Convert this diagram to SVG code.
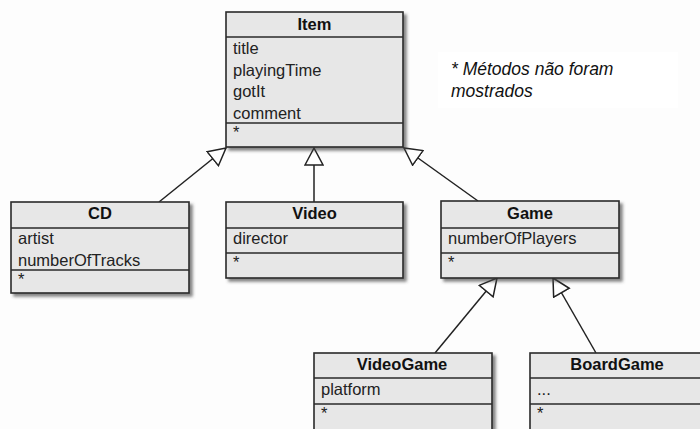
<svg xmlns="http://www.w3.org/2000/svg" width="700" height="429" viewBox="0 0 700 429">
  <defs>
    <filter id="shadow" x="-5%" y="-5%" width="115%" height="120%">
      <feDropShadow dx="3" dy="3" stdDeviation="1.4" flood-color="#444" flood-opacity="0.65"/>
    </filter>
    <!-- hollow generalization arrowhead -->
    <marker id="gen" markerUnits="userSpaceOnUse" viewBox="0 0 20 20" markerWidth="20" markerHeight="20" refX="18" refY="10" orient="auto">
      <path d="M1,1 L18,10 L1,19 Z" fill="#ffffff" stroke="#222" stroke-width="1.5" stroke-linejoin="miter"/>
    </marker>
  </defs>
  <style>
    .box { fill: #e7e7e7; stroke: #2a2a2a; stroke-width: 1.6; }
    .div { stroke: #2a2a2a; stroke-width: 1.6; }
    .name { font-family: "Liberation Sans", Arial, sans-serif; font-weight: bold; font-size: 16.5px; fill: #111; text-anchor: middle; }
    .attr { font-family: "Liberation Sans", Arial, sans-serif; font-size: 16.5px; fill: #222; }
    .note { font-family: "Liberation Sans", Arial, sans-serif; font-style: italic; font-size: 17.5px; fill: #111; }
    .conn { stroke: #222; stroke-width: 1.5; fill: none; marker-end: url(#gen); }
  </style>

  <rect x="0" y="0" width="700" height="429" fill="#fdfdfd"/>

  <!-- note -->
  <g id="note">
    <rect x="438" y="52" width="240" height="56" fill="#ffffff"/>
    <text class="note" x="451" y="75">* Métodos não foram</text>
    <text class="note" x="451" y="97">mostrados</text>
  </g>

  <!-- generalization connectors -->
  <g id="connectors">
    <line class="conn" x1="159" y1="202" x2="226" y2="148"/>
    <line class="conn" x1="314" y1="202" x2="314" y2="148"/>
    <line class="conn" x1="478" y1="201" x2="404" y2="148"/>
    <line class="conn" x1="435" y1="353" x2="497" y2="278"/>
    <line class="conn" x1="596" y1="353" x2="553" y2="278"/>
  </g>

  <g id="Item">
    <rect class="box" x="226" y="12" width="177" height="135" filter="url(#shadow)"/>
    <line class="div" x1="226" y1="37" x2="403" y2="37"/>
    <line class="div" x1="226" y1="123" x2="403" y2="123"/>
    <text class="name" x="314.5" y="29.5">Item</text>
    <text class="attr" x="233" y="54">title</text>
    <text class="attr" x="233" y="75.5">playingTime</text>
    <text class="attr" x="233" y="97">gotIt</text>
    <text class="attr" x="233" y="118.5">comment</text>
    <text class="attr" x="233" y="138">*</text>
  </g>

  <g id="CD">
    <rect class="box" x="11" y="202" width="178" height="91" filter="url(#shadow)"/>
    <line class="div" x1="11" y1="228" x2="189" y2="228"/>
    <line class="div" x1="11" y1="270" x2="189" y2="270"/>
    <text class="name" x="100" y="218.5">CD</text>
    <text class="attr" x="18" y="244">artist</text>
    <text class="attr" x="18" y="265.5">numberOfTracks</text>
    <text class="attr" x="18" y="285">*</text>
  </g>

  <g id="Video">
    <rect class="box" x="226" y="202" width="177" height="76" filter="url(#shadow)"/>
    <line class="div" x1="226" y1="228" x2="403" y2="228"/>
    <line class="div" x1="226" y1="253" x2="403" y2="253"/>
    <text class="name" x="314.5" y="218.5">Video</text>
    <text class="attr" x="233" y="244">director</text>
    <text class="attr" x="233" y="268">*</text>
  </g>

  <g id="Game">
    <rect class="box" x="441" y="201" width="178" height="77" filter="url(#shadow)"/>
    <line class="div" x1="441" y1="228" x2="619" y2="228"/>
    <line class="div" x1="441" y1="253" x2="619" y2="253"/>
    <text class="name" x="530" y="218.5">Game</text>
    <text class="attr" x="448" y="244">numberOfPlayers</text>
    <text class="attr" x="448" y="268">*</text>
  </g>

  <g id="VideoGame">
    <rect class="box" x="314" y="353" width="178" height="90" filter="url(#shadow)"/>
    <line class="div" x1="314" y1="378" x2="492" y2="378"/>
    <line class="div" x1="314" y1="404" x2="492" y2="404"/>
    <text class="name" x="402" y="370">VideoGame</text>
    <text class="attr" x="321" y="395">platform</text>
    <text class="attr" x="321" y="419">*</text>
  </g>

  <g id="BoardGame">
    <rect class="box" x="530" y="353" width="178" height="90" filter="url(#shadow)"/>
    <line class="div" x1="530" y1="378" x2="708" y2="378"/>
    <line class="div" x1="530" y1="404" x2="708" y2="404"/>
    <text class="name" x="617" y="370">BoardGame</text>
    <text class="attr" x="537" y="395">...</text>
    <text class="attr" x="537" y="419">*</text>
  </g>
</svg>
